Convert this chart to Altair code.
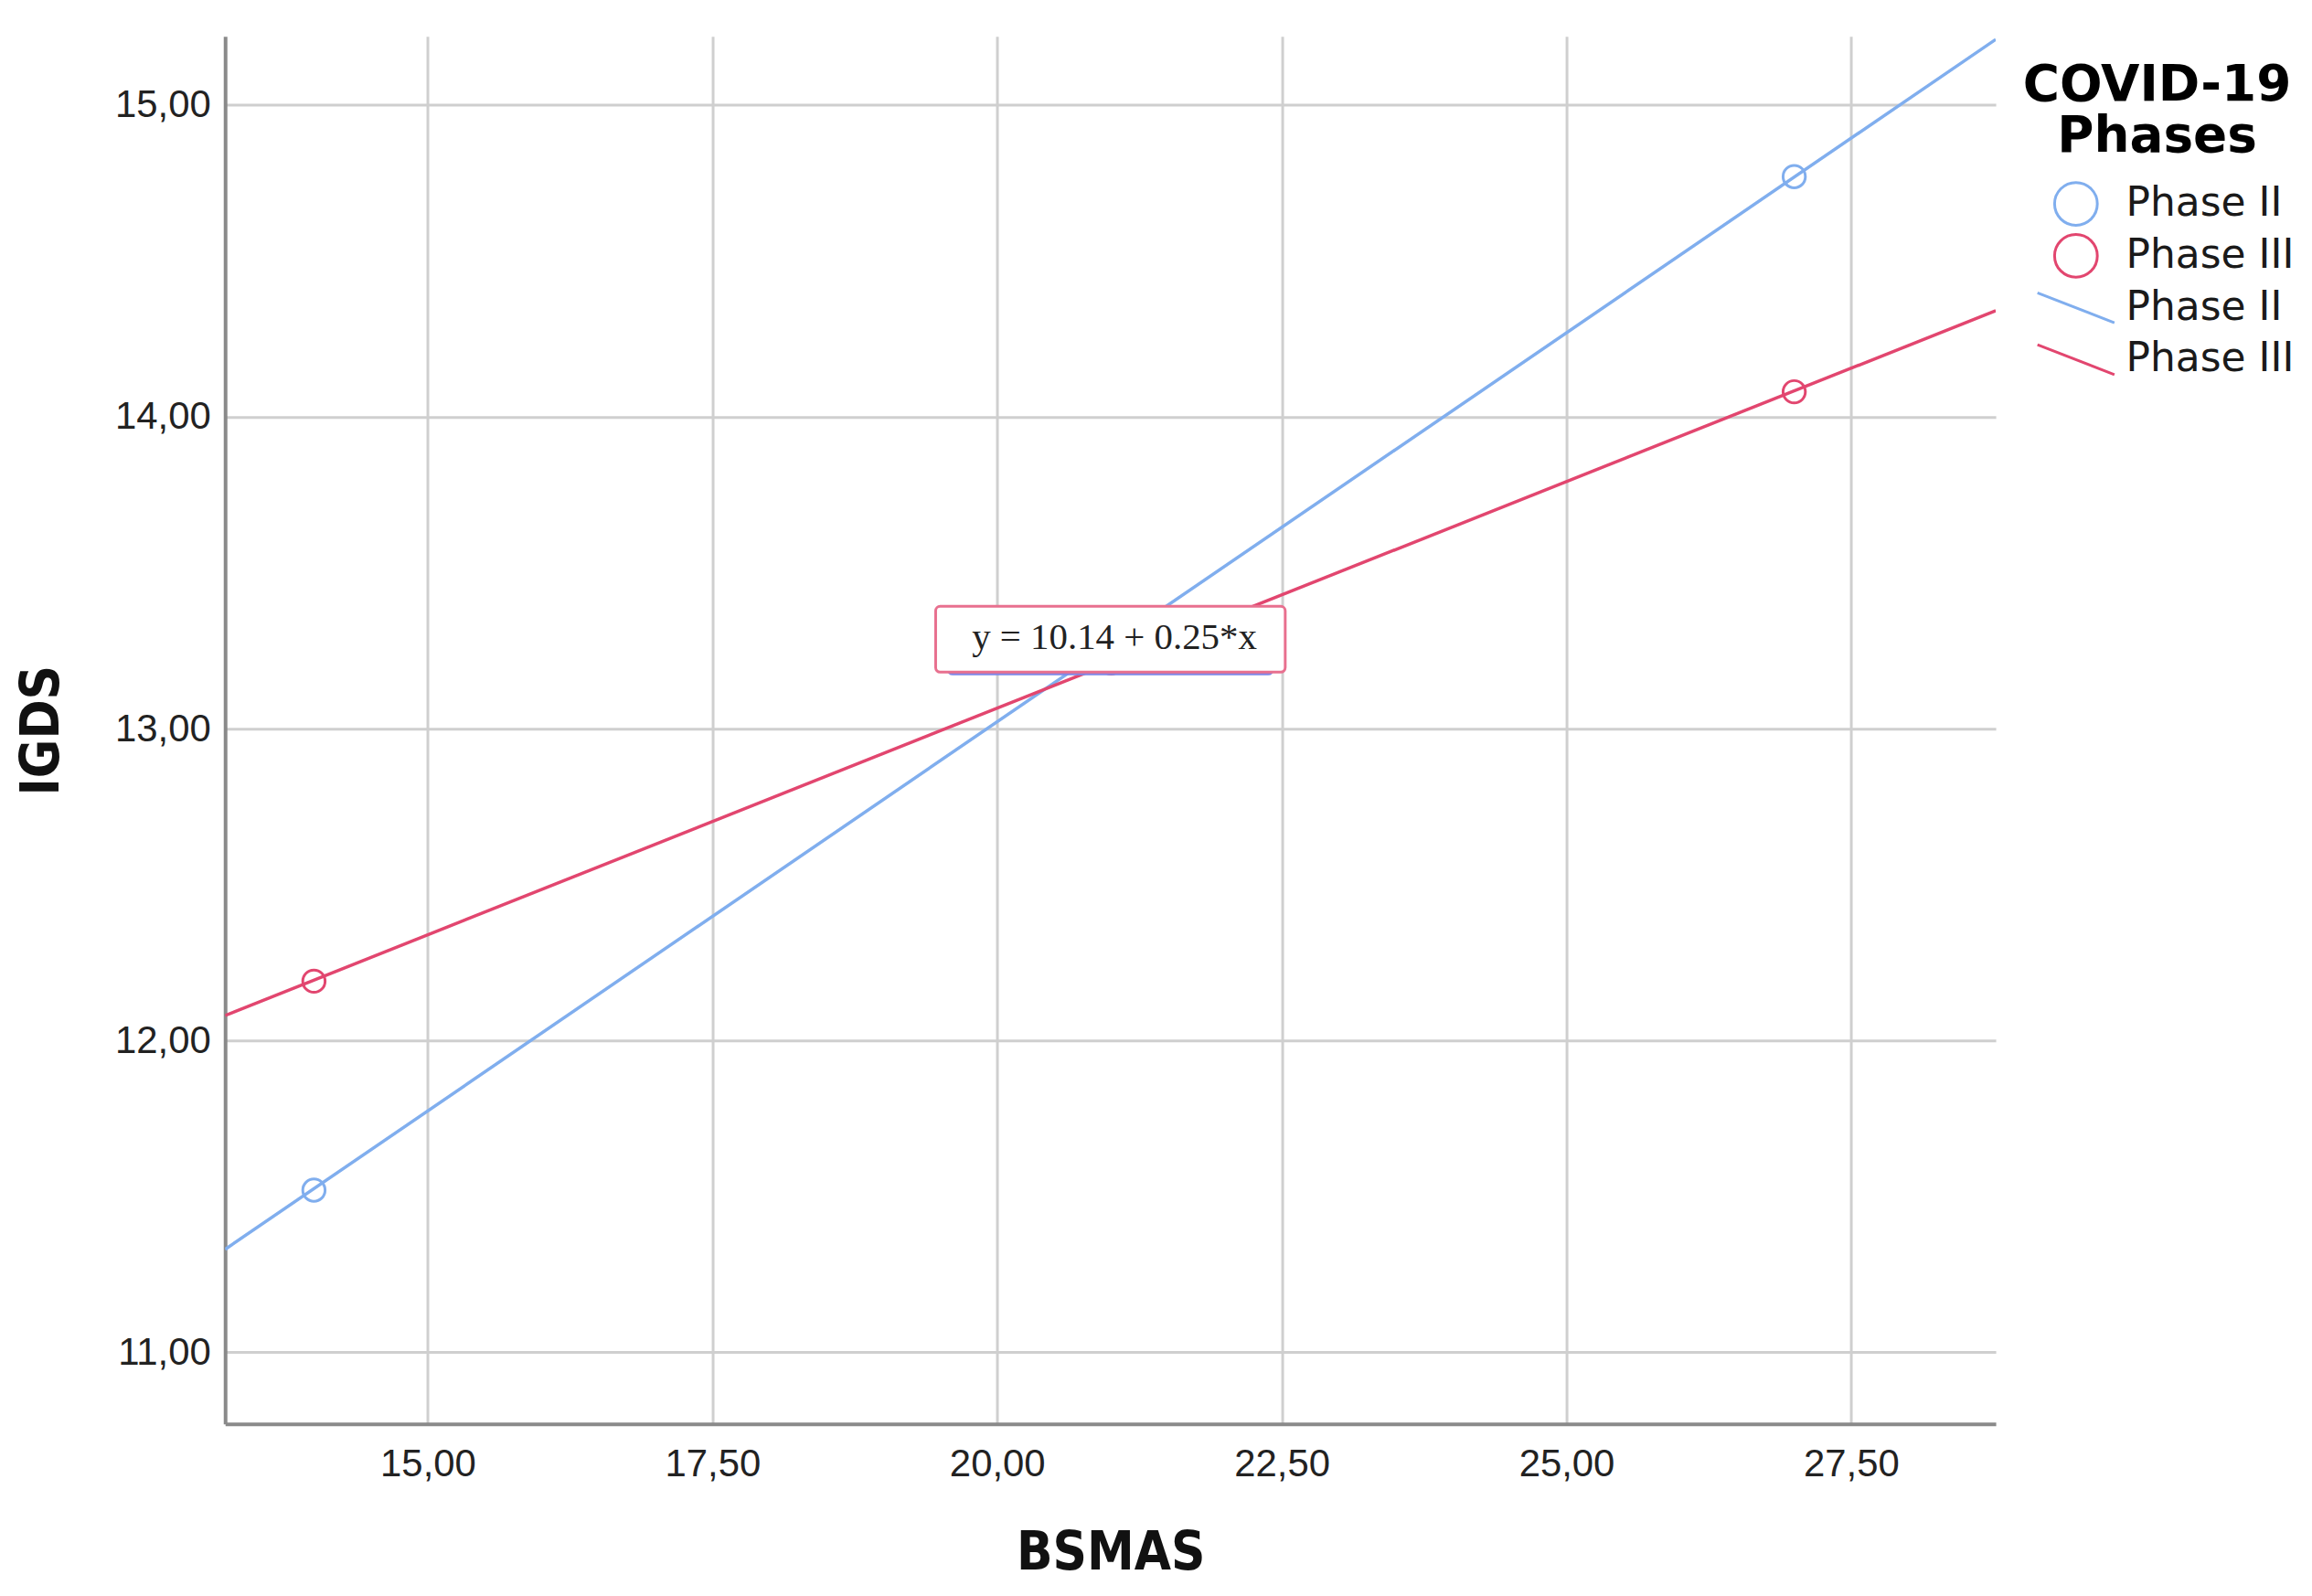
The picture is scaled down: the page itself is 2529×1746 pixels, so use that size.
import altair as alt
import pandas as pd

# ---------------- data ----------------
phases = ["Phase II", "Phase III"]
phase_colors = ["#80aeee", "#e2466f"]

point_bsmas = [14, 21, 27]
point_igds_phase2 = [11.52, 13.27, 14.77]
point_igds_phase3 = [12.19, 13.21, 14.08]

fit_bsmas = [13.22, 28.77]
fit_igds_phase2 = [11.33, 15.21]
fit_igds_phase3 = [12.08, 14.34]

x_domain = [13.22, 28.77]
y_domain = [10.77, 15.22]
x_ticks = [15, 17.5, 20, 22.5, 25, 27.5]
y_ticks = [11, 12, 13, 14, 15]

legend_keys = ["Phase II", "Phase III", "Phase II line", "Phase III line"]
legend_title = ["COVID-19", "Phases"]

equation_text = ["y = 10.14 + 0.25*x"]
equation_x = [21.03]
equation_y = [13.29]
# annotation boxes (data units): behind (Phase II, blue) and front (Phase III, pink)
box_phase = ["Phase II", "Phase III"]
box_x1 = [19.57, 19.46]
box_x2 = [22.42, 22.53]
box_y1 = [13.175, 13.181]
box_y2 = [13.36, 13.392]

# ---------------- tables ----------------
pts = pd.DataFrame({
    "BSMAS": point_bsmas * 2,
    "IGDS": point_igds_phase2 + point_igds_phase3,
    "key": [phases[0]] * len(point_bsmas) + [phases[1]] * len(point_bsmas),
})
fits = pd.DataFrame({
    "BSMAS": fit_bsmas * 2,
    "IGDS": fit_igds_phase2 + fit_igds_phase3,
    "phase": [phases[0]] * 2 + [phases[1]] * 2,
})
boxes = pd.DataFrame({"phase": box_phase, "x1": box_x1, "x2": box_x2,
                      "y1": box_y1, "y2": box_y2})
eq = pd.DataFrame({"t": equation_text, "x": equation_x, "y": equation_y})

comma = "replace(format(datum.value, '.2f'), '.', ',')"

xs = alt.Scale(domain=x_domain, nice=False, zero=False)
ys = alt.Scale(domain=y_domain, nice=False, zero=False)

x_axis = alt.Axis(values=x_ticks, labelExpr=comma, grid=True, ticks=False,
                  title="BSMAS", titlePadding=48, labelPadding=24)
y_axis = alt.Axis(values=y_ticks, labelExpr=comma, grid=True, ticks=False,
                  title="IGDS", titlePadding=50, labelPadding=16)

# descending line glyph for the fit-line legend entries (zero-length end
# segments keep the glyph's box as tall as the circle glyph)
line_path = "M-1.8,-0.7L1.8,0.7M0,-1L0,-1M0,1L0,1"

legend = alt.Legend(
    orient="none", legendX=1970, legendY=28, padding=0,
    titleFont="DejaVu Sans", titleFontSize=55, titleFontWeight="bold",
    titleColor="black", titleLineHeight=56, titleAlign="center",
    titleAnchor="middle", titlePadding=20, titleLimit=600,
    labelFont="DejaVu Sans", labelFontSize=44, labelColor="#1a1a1a",
    labelExpr="replace(datum.label, ' line', '')", labelOffset=30,
    labelLimit=500,
    symbolSize=2200, symbolStrokeWidth=3, symbolOffset=36, rowPadding=-3,
)

fit_lines = alt.Chart(fits).mark_line(strokeWidth=3.5, clip=True).encode(
    x=alt.X("BSMAS:Q", scale=xs, axis=x_axis),
    y=alt.Y("IGDS:Q", scale=ys, axis=y_axis),
    color=alt.Color("phase:N", scale=alt.Scale(domain=phases, range=phase_colors),
                    legend=None),
    detail="phase:N",
)

points = alt.Chart(pts).mark_point(filled=False, size=600, strokeWidth=3,
                                   opacity=1).encode(
    x=alt.X("BSMAS:Q", scale=xs),
    y=alt.Y("IGDS:Q", scale=ys),
    color=alt.Color("key:N", title=legend_title,
                    scale=alt.Scale(domain=legend_keys,
                                    range=phase_colors + phase_colors),
                    legend=legend),
    shape=alt.Shape("key:N", title=legend_title,
                    scale=alt.Scale(domain=legend_keys,
                                    range=["circle", "circle", line_path, line_path]),
                    legend=legend),
)

box_layer = alt.Chart(boxes).mark_rect(fill="white", strokeWidth=3,
                                       cornerRadius=5).encode(
    x="x1:Q", x2="x2:Q", y="y1:Q", y2="y2:Q",
    stroke=alt.Stroke("phase:N", scale=alt.Scale(domain=box_phase,
                                                 range=["#7f86e6", "#e8708f"]),
                      legend=None),
)

eq_layer = alt.Chart(eq).mark_text(font="Liberation Serif", fontSize=41,
                                   color="#222222").encode(
    x="x:Q", y="y:Q", text="t:N",
)

chart = alt.layer(fit_lines, points, box_layer, eq_layer).resolve_scale(
    color="independent", shape="independent", stroke="independent"
).properties(
    width=1943, height=1523,
    autosize=alt.AutoSizeParams(type="none"),
    padding={"left": 239, "top": 29, "right": 339, "bottom": 186},
    background="white",
).configure_view(stroke=None).configure_axis(
    gridColor="#cfcfcf", gridWidth=3,
    domainColor="#8a8a8a", domainWidth=4,
    labelFont="Liberation Sans", labelFontSize=42, labelColor="#222222",
    titleFont="DejaVu Sans Condensed, Liberation Sans", titleFontSize=58,
    titleFontWeight="bold", titleColor="#111111",
)

chart.save("out.html", embed_options={"renderer": "svg", "actions": False})
